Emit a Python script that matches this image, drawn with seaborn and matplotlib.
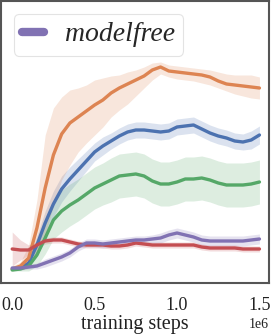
import numpy as np
import pandas as pd
import matplotlib
matplotlib.use("Agg")
import matplotlib.pyplot as plt
import seaborn as sns

# ---- data (x in training steps, y in arbitrary return units) ----
steps = np.arange(31) * 0.05e6

orange = [14, 17, 25, 55, 95, 128, 149, 160, 166, 172, 178, 183, 190, 195, 199, 203,
          207, 213, 216, 212, 211, 210, 209, 208, 206, 202, 199, 198, 197, 196, 195]
orange_hi = [17, 21, 38, 83, 148, 175, 186, 193, 195, 198, 203, 205, 207, 208, 211, 213,
             216, 220, 221, 218, 217, 216, 215, 214, 213, 211, 209, 208, 208, 208, 206]
orange_lo = [12, 14, 17, 28, 48, 78, 103, 118, 131, 140, 148, 156, 166, 173, 179, 187,
             195, 203, 209, 206, 204, 203, 202, 200, 198, 195, 192, 189, 187, 185, 184]

blue = [14, 15, 20, 38, 60, 79, 94, 104, 113, 122, 131, 137, 142, 147, 151, 153,
        153, 152, 151, 152, 156, 157, 158, 154, 150, 147, 145, 142, 141, 143, 148]
blue_sd = [1, 2, 5, 9, 12, 13, 13, 12, 11, 10, 9, 9, 8, 8, 8, 8,
           8, 8, 8, 8, 8, 8, 8, 8, 8, 8, 8, 8, 8, 9, 9]

green = [13, 14, 17, 28, 45, 63, 72, 78, 83, 89, 95, 99, 103, 107, 108, 109,
         107, 102, 99, 99, 101, 104, 104, 105, 103, 100, 98, 98, 98, 99, 101]
green_sd = [1, 2, 5, 11, 16, 19, 21, 21, 21, 21, 21, 21, 22, 22, 22, 22,
            22, 22, 22, 22, 22, 22, 22, 22, 22, 22, 22, 22, 22, 22, 22]

red = [34, 33, 33, 38, 42, 43, 43, 41, 39, 38, 38, 38, 37, 37, 38, 40,
       39, 38, 38, 38, 38, 38, 38, 36, 35, 35, 35, 35, 34, 34, 34]
red_sd = [17, 10, 5, 3, 3, 3, 3, 3, 3, 3, 3, 3, 3, 3, 3, 3,
          3, 3, 3, 3, 3, 3, 3, 3, 3, 3, 3, 3, 3, 3, 3]

purple = [15, 15, 16, 17, 20, 23, 26, 30, 36, 40, 40, 39, 40, 41, 42, 43,
          43, 44, 45, 48, 50, 48, 46, 43, 42, 42, 42, 42, 42, 43, 44]
purple_sd = [2, 2, 2, 3, 4, 4, 4, 4, 4, 4, 4, 4, 4, 4, 4, 4,
             4, 4, 5, 5, 5, 5, 5, 5, 5, 5, 5, 5, 5, 5, 5]

legend_label = "modelfree"
xlabel = "training steps"
xticks = [0.0, 0.5e6, 1.0e6, 1.5e6]

# ---- style ----
sns.set_theme(style="white")
plt.rcParams["font.family"] = ["Liberation Serif", "DejaVu Serif"]
pal = sns.color_palette("deep")

fig = plt.figure(figsize=(2.72, 3.35), dpi=100)
ax = fig.add_axes([1 / 272, 1 - 283 / 335, 268 / 272, 282 / 335])

series = [
    ("blue", blue, np.array(blue) - np.array(blue_sd), np.array(blue) + np.array(blue_sd), pal[0]),
    ("orange", orange, np.array(orange_lo), np.array(orange_hi), pal[1]),
    ("green", green, np.array(green) - np.array(green_sd), np.array(green) + np.array(green_sd), pal[2]),
    ("red", red, np.array(red) - np.array(red_sd), np.array(red) + np.array(red_sd), pal[3]),
    ("purple", purple, np.array(purple) - np.array(purple_sd), np.array(purple) + np.array(purple_sd), pal[4]),
]

for name, mean, lo, hi, col in series:
    df = pd.DataFrame({"step": steps, "value": mean})
    ax.fill_between(steps, lo, hi, color=col, alpha=0.2, linewidth=0)
    sns.lineplot(data=df, x="step", y="value", ax=ax, color=col, linewidth=2.4,
                 label=legend_label if name == "purple" else "_nolegend_",
                 solid_capstyle="round")

ax.set_xlim(-0.068e6, 1.558e6)
ax.set_ylim(0, 282)
ax.set_xticks(xticks)
ax.set_yticks([])
ax.set_ylabel("")
ax.set_xlabel(xlabel, fontsize=14.5, color="#222222", labelpad=1)
ax.tick_params(axis="x", labelsize=13, colors="#222222", length=0, pad=10)
ax.xaxis.get_offset_text().set_fontsize(10)
ax.xaxis.get_offset_text().set_color("#222222")

for sp in ax.spines.values():
    sp.set_color("#555555")
    sp.set_linewidth(1.5)

leg = ax.legend(loc="upper left", prop={"family": ["Liberation Serif"], "style": "italic", "size": 20},
                handlelength=0.8, handletextpad=0.75, borderpad=0.3, borderaxespad=0.45,
                frameon=True, fancybox=True)
leg.get_frame().set_edgecolor("#dddddd")
leg.get_frame().set_linewidth(0.8)
for h in leg.get_lines():
    h.set_linewidth(6)
    h.set_solid_capstyle("round")

fig.savefig("out.png", dpi=100)
